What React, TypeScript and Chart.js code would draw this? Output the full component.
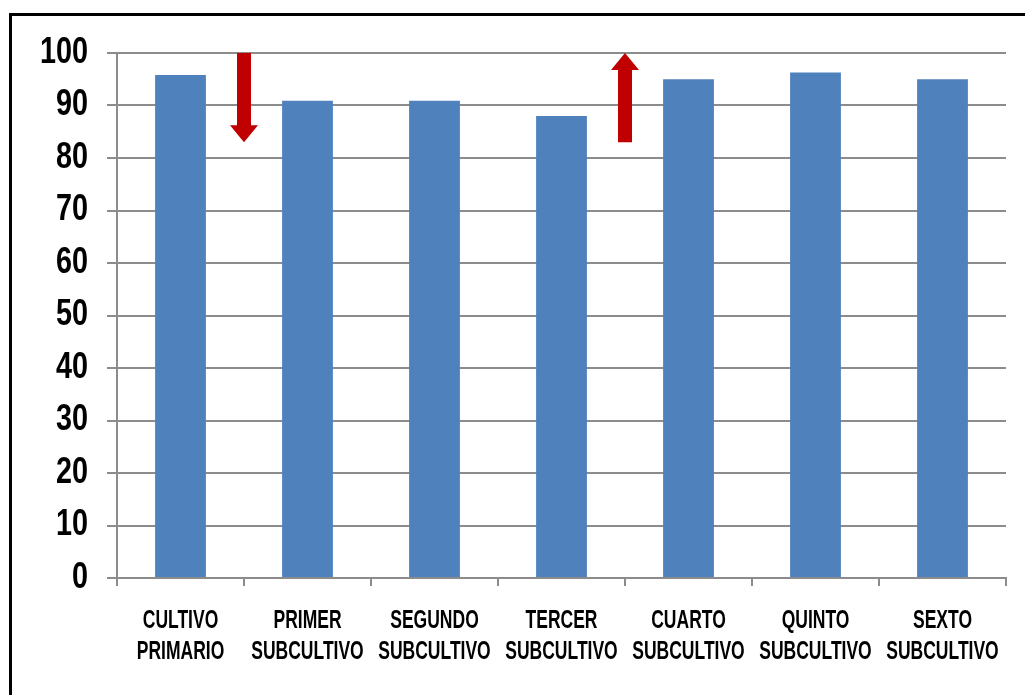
import React, { useEffect, useRef } from "react";
import { Chart, registerables } from "chart.js";

Chart.register(...registerables);

const categories: string[][] = [
  ["CULTIVO", "PRIMARIO"],
  ["PRIMER", "SUBCULTIVO"],
  ["SEGUNDO", "SUBCULTIVO"],
  ["TERCER", "SUBCULTIVO"],
  ["CUARTO", "SUBCULTIVO"],
  ["QUINTO", "SUBCULTIVO"],
  ["SEXTO", "SUBCULTIVO"],
];
const values: number[] = [95.8, 90.9, 90.9, 88.0, 95.0, 96.3, 95.0];
const yMin = 0;
const yMax = 100;
const yStep = 10;

// Arrows placed between categories (fractional category index), from value -> to value
const arrowPositions: number[] = [0.5, 3.5];
const arrowFrom: number[] = [100, 83];
const arrowTo: number[] = [83, 100];

const FONT = "'Liberation Sans', Arial, sans-serif";

const arrowPlugin = {
  id: "arrows",
  afterDatasetsDraw(chart: any) {
    const { ctx, scales } = chart;
    const xs = scales.x;
    const ys = scales.y;
    const shaftHalf = 7;
    const headHalf = 14;
    const headLen = 17;
    ctx.save();
    ctx.fillStyle = "#C00000";
    for (let i = 0; i < arrowPositions.length; i++) {
      const cx = xs.getPixelForValue(arrowPositions[i]);
      const y0 = ys.getPixelForValue(arrowFrom[i]);
      const y1 = ys.getPixelForValue(arrowTo[i]);
      const dir = y1 > y0 ? 1 : -1;
      const hb = y1 - dir * headLen;
      ctx.beginPath();
      ctx.moveTo(cx - shaftHalf, y0);
      ctx.lineTo(cx + shaftHalf, y0);
      ctx.lineTo(cx + shaftHalf, hb);
      ctx.lineTo(cx + headHalf, hb);
      ctx.lineTo(cx, y1);
      ctx.lineTo(cx - headHalf, hb);
      ctx.lineTo(cx - shaftHalf, hb);
      ctx.closePath();
      ctx.fill();
    }
    ctx.restore();
  },
};

// Draw tick labels horizontally condensed (narrow bold look), using Chart.js computed label items
function condenseLabels(chart: any, scale: any, sx: number) {
  if (!scale || scale.__condensed) return;
  scale.drawLabels = (area: any) => {
    const ctx = chart.ctx;
    const items = scale.getLabelItems(area);
    for (const item of items) {
      const o = item.options;
      ctx.save();
      ctx.translate(o.translation[0], o.translation[1]);
      if (o.rotation) ctx.rotate(o.rotation);
      ctx.scale(sx, 1);
      ctx.font = item.font.string;
      ctx.fillStyle = o.color;
      ctx.textAlign = o.textAlign;
      ctx.textBaseline = o.textBaseline;
      const lines = Array.isArray(item.label) ? item.label : [item.label];
      let y = item.textOffset;
      for (const line of lines) {
        ctx.fillText(String(line), 0, y);
        y += item.font.lineHeight;
      }
      ctx.restore();
    }
  };
  scale.__condensed = true;
}

const condensePlugin = {
  id: "condense",
  afterLayout(chart: any) {
    condenseLabels(chart, chart.scales.x, 0.7);
    condenseLabels(chart, chart.scales.y, 0.8);
  },
};

export default function App() {
  const ref = useRef<HTMLCanvasElement | null>(null);

  useEffect(() => {
    if (!ref.current) return;
    const chart = new Chart(ref.current, {
      type: "bar",
      data: {
        labels: categories,
        datasets: [
          {
            data: values,
            backgroundColor: "#4F81BD",
            borderWidth: 0,
            categoryPercentage: 1,
            barPercentage: 0.4,
          },
        ],
      },
      options: {
        responsive: false,
        animation: false,
        devicePixelRatio: 1,
        layout: { padding: { left: 0, top: 53, right: 19, bottom: 0 } },
        plugins: {
          legend: { display: false },
          tooltip: { enabled: false },
        },
        scales: {
          x: {
            afterFit: (s: any) => {
              s.height = 117;
              s.paddingLeft = 0;
              s.paddingRight = 0;
            },
            grid: {
              drawOnChartArea: false,
              drawTicks: true,
              tickLength: 8,
              color: "#8c8c8c",
              lineWidth: 2,
            },
            border: { display: true, color: "#8c8c8c", width: 2 },
            ticks: {
              autoSkip: false,
              maxRotation: 0,
              minRotation: 0,
              padding: 20,
              color: "#000000",
              font: { family: FONT, size: 25, weight: "bold", lineHeight: 31 / 25 },
            },
          },
          y: {
            min: yMin,
            max: yMax,
            afterFit: (s: any) => {
              s.width = 117;
              s.paddingTop = 0;
              s.paddingBottom = 0;
            },
            grid: {
              color: "#8c8c8c",
              lineWidth: 2,
              tickLength: 10,
              drawTicks: true,
            },
            border: { display: true, color: "#8c8c8c", width: 2 },
            ticks: {
              stepSize: yStep,
              padding: 19,
              color: "#000000",
              font: { family: FONT, size: 36, weight: "bold" },
            },
          },
        },
      },
      plugins: [arrowPlugin, condensePlugin],
    } as any);
    return () => chart.destroy();
  }, []);

  return (
    <div style={{ position: "fixed", left: 0, top: 0, width: 1025, height: 695, overflow: "hidden", background: "#fff" }}>
      <div
        style={{
          position: "absolute",
          left: 9,
          top: 13,
          width: 1100,
          height: 800,
          borderLeft: "3px solid #000",
          borderTop: "3px solid #000",
          boxSizing: "border-box",
        }}
      />
      <canvas
        ref={ref}
        width={1025}
        height={695}
        style={{ position: "absolute", left: 0, top: 0, width: 1025, height: 695 }}
      />
    </div>
  );
}
